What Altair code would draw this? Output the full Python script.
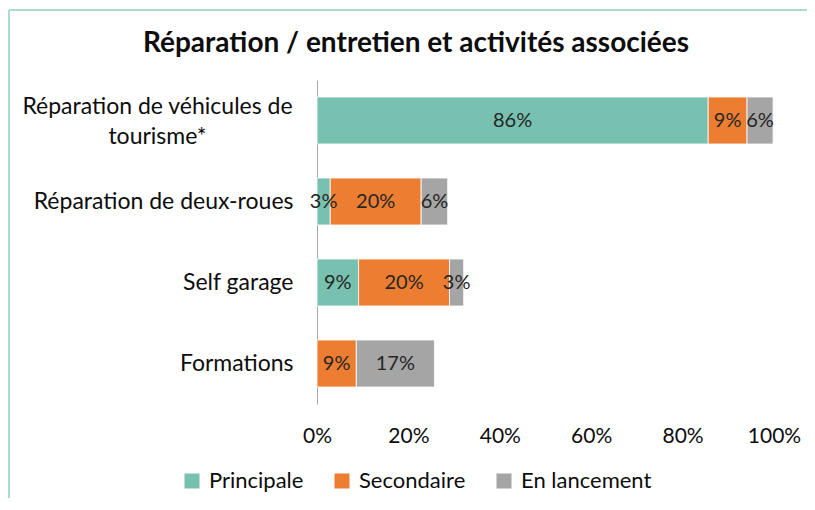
import altair as alt
import pandas as pd

# ---------------- data ----------------
categories = [
    "Réparation de véhicules de tourisme*",
    "Réparation de deux-roues",
    "Self garage",
    "Formations",
]
series = ["Principale", "Secondaire", "En lancement"]
principale = [85.6, 2.9, 9.1, 0.0]
secondaire = [8.5, 19.9, 19.9, 8.6]
lancement = [5.7, 5.8, 3.1, 17.1]
principale_labels = ["86%", "3%", "9%", ""]
secondaire_labels = ["9%", "20%", "20%", "9%"]
lancement_labels = ["6%", "6%", "3%", "17%"]
x_ticks = [0, 0.2, 0.4, 0.6, 0.8, 1.0]
colors = ["#78C1B0", "#ED7D31", "#A5A5A5"]
title_text = "Réparation / entretien et activités associées"

rows = []
for i, cat in enumerate(categories):
    for j, (vals, labs) in enumerate(
        [(principale, principale_labels), (secondaire, secondaire_labels), (lancement, lancement_labels)]
    ):
        if vals[i] > 0:
            rows.append({"cat": cat, "serie": series[j], "value": vals[i] / 100.0,
                         "label": labs[i], "order": j})
df = pd.DataFrame(rows)

FONT = "Lato"
TXT = "#0d0d0d"
long_label = categories[0]
is_long = "datum.value == '" + long_label + "'"

y_enc = alt.Y(
    "cat:N",
    sort=categories,
    scale=alt.Scale(paddingInner=0.42, paddingOuter=0.21),
    axis=alt.Axis(
        title=None,
        ticks=False,
        domainColor="#A6A6A6",
        domainWidth=1,
        labelFont=FONT,
        labelFontSize=23,
        labelColor=TXT,
        labelLimit=500,
        labelLineHeight=30,
        labelExpr=is_long + " ? ['Réparation de véhicules de', 'tourisme*'] : datum.value",
        labelAlign={"condition": {"test": is_long, "value": "center"}, "value": "right"},
        labelPadding={"condition": {"test": is_long, "value": 160}, "value": 24},
        labelOffset={"condition": {"test": is_long, "value": -14}, "value": 0},
    ),
)

x_enc = alt.X(
    "value:Q",
    stack="zero",
    scale=alt.Scale(domain=[0, 1], nice=False),
    axis=alt.Axis(
        title=None,
        values=x_ticks,
        format=".0%",
        grid=False,
        ticks=False,
        domain=False,
        labelFlush=False,
        labelFont=FONT,
        labelFontSize=21,
        labelColor=TXT,
        labelPadding=21,
    ),
)

bars = alt.Chart(df).mark_bar(stroke="white", strokeWidth=0.8).encode(
    y=y_enc,
    x=x_enc,
    color=alt.Color(
        "serie:N",
        scale=alt.Scale(domain=series, range=colors),
        legend=alt.Legend(
            title=None,
            orient="none",
            direction="horizontal",
            legendX=-136,
            legendY=390,
            symbolType="square",
            symbolSize=225,
            symbolStrokeWidth=0,
            labelFont=FONT,
            labelFontSize=22,
            labelColor=TXT,
            labelOffset=6,
            columnPadding=27,
        ),
    ),
    order=alt.Order("order:Q"),
)

texts = alt.Chart(df).transform_stack(
    stack="value", as_=["x0", "x1"], groupby=["cat"], sort=[alt.SortField("order")]
).transform_calculate(
    mid="(datum.x0 + datum.x1) / 2"
).mark_text(font=FONT, fontSize=20, color="#262626", baseline="middle", align="center").encode(
    y=alt.Y("cat:N", sort=categories),
    x=alt.X("mid:Q"),
    text="label:N",
)

one = pd.DataFrame({"k": [0]})
title = alt.Chart(one).mark_text(
    text=title_text, font=FONT, fontSize=28, fontWeight="bold", color="#0d0d0d",
    align="center", baseline="middle",
).encode(x=alt.value(99), y=alt.value(-36))

frame_left = alt.Chart(one).mark_rule(color="#A9DCCF", strokeWidth=2).encode(
    x=alt.value(-308), y=alt.value(-70), y2=alt.value(480)
)
frame_top = alt.Chart(one).mark_rule(color="#A9DCCF", strokeWidth=2).encode(
    x=alt.value(-308), x2=alt.value(540), y=alt.value(-70)
)

chart = alt.layer(frame_left, frame_top, bars, texts, title).properties(
    width=457,
    height=324,
    autosize=alt.AutoSizeParams(type="none"),
    padding={"left": 309, "top": 72, "right": 33, "bottom": 94},
    background="white",
).configure_view(stroke=None)

chart.save("out.html", embed_options={"renderer": "svg", "actions": False})
